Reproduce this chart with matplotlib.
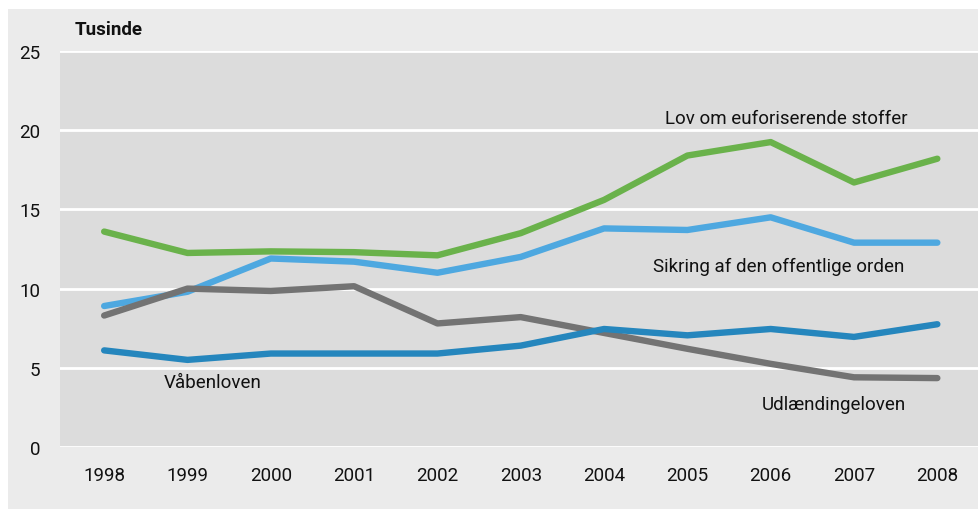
import matplotlib.pyplot as plt
import matplotlib.patches as patches
from matplotlib import font_manager

# data (thousands)
years = [1998, 1999, 2000, 2001, 2002, 2003, 2004, 2005, 2006, 2007, 2008]
euforiserende = [13.6, 12.25, 12.35, 12.3, 12.1, 13.5, 15.6, 18.4, 19.25, 16.7, 18.2]
sikring = [8.9, 9.8, 11.9, 11.7, 11.0, 12.0, 13.8, 13.7, 14.5, 12.9, 12.9]
udlaendinge = [8.3, 10.0, 9.85, 10.15, 7.8, 8.2, 7.2, 6.2, 5.25, 4.4, 4.35]
vaaben = [6.1, 5.5, 5.9, 5.9, 5.9, 6.4, 7.45, 7.05, 7.45, 6.95, 7.75]
yticks = [0, 5, 10, 15, 20, 25]

# narrow font if there is one, otherwise Roboto
names = set(f.name for f in font_manager.fontManager.ttflist)
if 'Liberation Sans Narrow' in names:
    fam, fs = 'Liberation Sans Narrow', 15
else:
    fam, fs = 'Roboto', 13.5
plt.rcParams['font.family'] = [fam, 'DejaVu Sans']

fig = plt.figure(figsize=(9.79, 5.10), dpi=100)
fig.patch.set_facecolor('white')
# outer grey panel
fig.patches.append(patches.Rectangle((8 / 979, 0), 1, 1 - 10 / 510,
                                     transform=fig.transFigure,
                                     facecolor='#ebebeb', edgecolor='none', zorder=-10))

ax = fig.add_axes([60 / 979, 1 - 448 / 510, 919 / 979, 396 / 510])
ax.set_zorder(5)
ax.set_facecolor('#dcdcdc')
ax.set_xlim(1997.47, 2008.5)
ax.set_ylim(0, 25)
ax.set_yticks(yticks)
ax.set_xticks(years)
ax.grid(axis='y', color='white', linewidth=2.0)
ax.set_axisbelow(True)
for s in ax.spines.values():
    s.set_visible(False)
ax.tick_params(length=0, labelsize=fs, colors='#111111')
ax.tick_params(axis='y', pad=14)
ax.tick_params(axis='x', pad=14)

lw = 4.6
ax.plot(years, euforiserende, color='#6ab24b', lw=lw, solid_capstyle='round', solid_joinstyle='round')
ax.plot(years, sikring, color='#4ea8e0', lw=lw, solid_capstyle='round', solid_joinstyle='round')
ax.plot(years, udlaendinge, color='#737373', lw=lw, solid_capstyle='round', solid_joinstyle='round')
ax.plot(years, vaaben, color='#2586bd', lw=lw, solid_capstyle='round', solid_joinstyle='round')

ax.text(2006.19, 20.77, 'Lov om euforiserende stoffer', fontsize=fs, ha='center', va='center', color='#111111')
ax.text(2006.1, 11.43, 'Sikring af den offentlige orden', fontsize=fs, ha='center', va='center', color='#111111')
ax.text(1999.3, 4.1, 'Våbenloven', fontsize=fs, ha='center', va='center', color='#111111')
ax.text(2006.76, 2.7, 'Udlændingeloven', fontsize=fs, ha='center', va='center', color='#111111')

fig.text(75 / 979, 1 - 30 / 510, 'Tusinde', fontsize=fs, fontweight='bold', ha='left', va='center',
         color='#111111', zorder=6)

fig.savefig('out.png', dpi=100, facecolor=fig.get_facecolor())
